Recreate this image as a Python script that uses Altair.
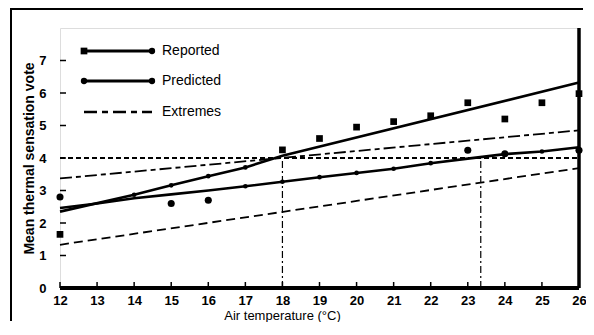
import altair as alt
import pandas as pd

# ---- data ----
rep_obs_x = [12, 18, 19, 20, 21, 22, 23, 24, 25, 26]
rep_obs_y = [1.65, 4.25, 4.6, 4.95, 5.12, 5.3, 5.7, 5.2, 5.7, 5.98]
pred_obs_x = [12, 15, 16, 23, 24, 26]
pred_obs_y = [2.8, 2.6, 2.7, 4.24, 4.13, 4.24]

rep_fit_x = [12, 14, 15, 16, 17, 18, 26]
rep_fit_y = [2.35, 2.87, 3.16, 3.44, 3.71, 4.07, 6.32]
rep_marker_x = [14, 15, 16, 17]

pred_fit_x = [12, 13, 14, 15, 16, 17, 18, 19, 20, 21, 22, 23, 24, 25, 26]
pred_fit_y = [2.46, 2.6, 2.76, 2.88, 3.0, 3.13, 3.27, 3.41, 3.54, 3.67, 3.84, 3.98, 4.12, 4.2, 4.33]
pred_marker_x = [17, 18, 19, 20, 21, 22, 24, 25]

ext_x = [12, 26]
ext_upper_y = [3.37, 4.85]
ext_lower_y = [1.33, 3.69]

comfort_limit = 4
limit_x = [12, 26]
cross_x = [18, 23.35]

x_ticks = list(range(12, 27))
y_ticks = list(range(0, 8))

legend_labels = ["Reported", "Predicted", "Extremes"]

W, H = 519, 260
PAD_L, PAD_T, PAD_R, PAD_B = 52, 20, 7, 34
FONT = "Liberation Sans"

xs = alt.Scale(domain=[12, 26], nice=False, zero=False)
ys = alt.Scale(domain=[0, 8], nice=False)

xaxis = alt.Axis(values=x_ticks, ticks=False, grid=False, domain=False,
                 labelFont=FONT, labelFontSize=13, labelFontWeight="bold",
                 labelColor="black", labelPadding=6, format="d",
                 title="Air temperature (°C)", titleFont=FONT, titleFontSize=13,
                 titleFontWeight="normal", titleColor="black", titlePadding=2,
                 titleX=222, titleAnchor="middle", labelFlush=False)
yaxis = alt.Axis(values=y_ticks, ticks=False, grid=False, domain=False,
                 labelFont=FONT, labelFontSize=13, labelFontWeight="bold",
                 labelColor="black", labelPadding=14, format="d",
                 title="Mean thermal sensation vote", titleFont=FONT, titleFontSize=14,
                 titleFontWeight="bold", titleColor="black", titlePadding=2)

def X(field="x"):
    return alt.X(f"{field}:Q", scale=xs, axis=xaxis)

def Y(field="y"):
    return alt.Y(f"{field}:Q", scale=ys, axis=yaxis)

one = pd.DataFrame({"x": [12], "y": [0]})
base_axes = alt.Chart(one).mark_point(opacity=0).encode(x=X(), y=Y())

# inward ticks
xt = alt.Chart(pd.DataFrame({"x": x_ticks})).mark_rule(color="black", strokeWidth=1.5).encode(
    x=X(), y=alt.value(H), y2=alt.value(H - 6))
yt = alt.Chart(pd.DataFrame({"y": y_ticks})).mark_rule(color="black", strokeWidth=1.5).encode(
    y=Y(), x=alt.value(0), x2=alt.value(6))

# reference lines
hline = alt.Chart(pd.DataFrame({"x": limit_x, "y": [comfort_limit] * 2})).mark_line(
    color="black", strokeWidth=2, strokeDash=[5, 3]).encode(x=X(), y=Y())
vlines = alt.Chart(pd.DataFrame({"x": cross_x, "y0": [0, 0], "y1": [comfort_limit] * 2})).mark_rule(
    color="black", strokeWidth=1.2, strokeDash=[7, 3, 2, 3]).encode(x=X(), y=Y("y0"), y2="y1:Q")

# extremes
ext_up = alt.Chart(pd.DataFrame({"x": ext_x, "y": ext_upper_y})).mark_line(
    color="black", strokeWidth=1.8, strokeDash=[12, 4, 5, 4]).encode(x=X(), y=Y())
ext_lo = alt.Chart(pd.DataFrame({"x": ext_x, "y": ext_lower_y})).mark_line(
    color="black", strokeWidth=1.8, strokeDash=[9, 5]).encode(x=X(), y=Y())

# fitted lines
rep_df = pd.DataFrame({"x": rep_fit_x, "y": rep_fit_y})
pred_df = pd.DataFrame({"x": pred_fit_x, "y": pred_fit_y})
rep_line = alt.Chart(rep_df).mark_line(color="black", strokeWidth=2.6).encode(x=X(), y=Y())
pred_line = alt.Chart(pred_df).mark_line(color="black", strokeWidth=2.6).encode(x=X(), y=Y())

rep_dots = alt.Chart(rep_df).transform_filter(
    alt.FieldOneOfPredicate(field="x", oneOf=rep_marker_x)).mark_point(
    filled=True, color="black", size=22, opacity=1).encode(x=X(), y=Y())
pred_dots = alt.Chart(pred_df).transform_filter(
    alt.FieldOneOfPredicate(field="x", oneOf=pred_marker_x)).mark_point(
    filled=True, color="black", size=22, opacity=1).encode(x=X(), y=Y())

# observed points
rep_pts = alt.Chart(pd.DataFrame({"x": rep_obs_x, "y": rep_obs_y})).mark_point(
    shape="square", filled=True, color="black", size=45, opacity=1).encode(x=X(), y=Y())
pred_pts = alt.Chart(pd.DataFrame({"x": pred_obs_x, "y": pred_obs_y})).mark_point(
    shape="circle", filled=True, color="black", size=50, opacity=1).encode(x=X(), y=Y())

# plot frame: thick bottom and right (along the scale ends)
bottom = alt.Chart(pd.DataFrame({"x": [12], "x2": [26], "y": [0]})).mark_rule(
    color="black", strokeWidth=4).encode(x=X(), x2="x2:Q", y=Y())
right = alt.Chart(pd.DataFrame({"x": [26], "y": [0], "y2": [8]})).mark_rule(
    color="black", strokeWidth=3.5).encode(x=X(), y=Y(), y2="y2:Q")

# outer frame (cropped at right/bottom), kept inside the canvas
frame_top = alt.Chart(one).mark_rule(color="black", strokeWidth=2).encode(
    x=alt.value(-50), x2=alt.value(W + 4), y=alt.value(-19))
frame_left = alt.Chart(one).mark_rule(color="black", strokeWidth=2).encode(
    x=alt.value(-49), y=alt.value(-19), y2=alt.value(H + PAD_B - 1))

# manual legend
leg_y = [23, 53, 84]
lx0, lx1 = 24, 92
leg_layers = [
    alt.Chart(one).mark_rule(color="black", strokeWidth=3).encode(
        x=alt.value(lx0), x2=alt.value(lx1), y=alt.value(leg_y[0])),
    alt.Chart(one).mark_point(shape="square", filled=True, color="black", size=45, opacity=1).encode(
        x=alt.value(lx0), y=alt.value(leg_y[0])),
    alt.Chart(one).mark_point(shape="circle", filled=True, color="black", size=40, opacity=1).encode(
        x=alt.value(lx1), y=alt.value(leg_y[0])),
    alt.Chart(one).mark_rule(color="black", strokeWidth=3).encode(
        x=alt.value(lx0), x2=alt.value(lx1), y=alt.value(leg_y[1])),
    alt.Chart(one).mark_point(shape="circle", filled=True, color="black", size=40, opacity=1).encode(
        x=alt.value(lx0), y=alt.value(leg_y[1])),
    alt.Chart(one).mark_point(shape="circle", filled=True, color="black", size=40, opacity=1).encode(
        x=alt.value(lx1), y=alt.value(leg_y[1])),
    alt.Chart(one).mark_rule(color="black", strokeWidth=2.5, strokeDash=[13, 5, 6, 5]).encode(
        x=alt.value(lx0), x2=alt.value(lx1), y=alt.value(leg_y[2])),
]
for lab, py in zip(legend_labels, leg_y):
    leg_layers.append(
        alt.Chart(pd.DataFrame({"label": [lab]})).mark_text(
            align="left", baseline="middle", font=FONT, fontSize=14, color="black").encode(
            x=alt.value(lx1 + 10), y=alt.value(py), text="label:N"))

chart = alt.layer(
    base_axes, frame_top, frame_left, xt, yt, hline, vlines, ext_up, ext_lo,
    rep_line, pred_line, rep_dots, pred_dots, rep_pts, pred_pts, bottom, right,
    *leg_layers
).properties(
    width=W, height=H,
    autosize=alt.AutoSizeParams(type="none"),
    padding={"left": PAD_L, "top": PAD_T, "right": PAD_R, "bottom": PAD_B},
).configure_view(stroke="black", strokeWidth=2).configure(background="white")

chart.save("out.html", embed_options={"renderer": "svg", "actions": False})
